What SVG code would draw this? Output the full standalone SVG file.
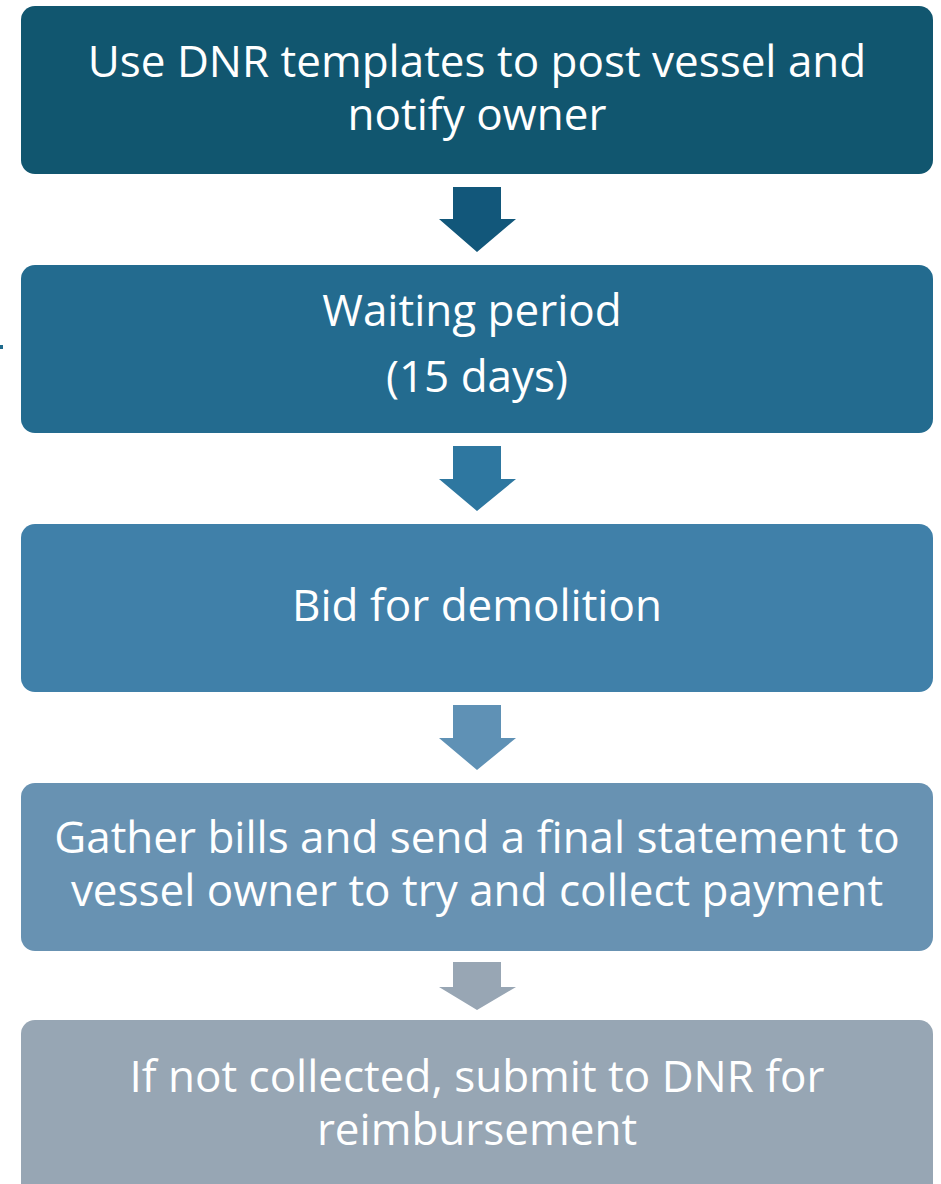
<svg xmlns="http://www.w3.org/2000/svg" width="941" height="1184" viewBox="0 0 941 1184">
<style>
.box{stroke:none}
.t{font-family:"Open Sans","Liberation Sans",sans-serif;font-size:44px;fill:#ffffff;text-anchor:middle}
</style>
<rect x="0" y="0" width="941" height="1184" fill="#ffffff"/>
<rect x="0" y="345" width="3" height="4" fill="#1e6a8c"/>
<g id="node1"><rect class="box" x="21" y="6" width="912" height="168" rx="14" fill="#11566f"/>
<text class="t" x="477" y="77">Use DNR templates to post vessel and</text>
<text class="t" x="477" y="130">notify owner</text></g>
<g id="node2"><rect class="box" x="21" y="265" width="912" height="168" rx="14" fill="#236b8f"/>
<text class="t" x="472" y="326">Waiting period</text>
<text class="t" x="477" y="392">(15 days)</text></g>
<g id="node3"><rect class="box" x="21" y="524" width="912" height="168" rx="14" fill="#4080a9"/>
<text class="t" x="477" y="621">Bid for demolition</text></g>
<g id="node4"><rect class="box" x="21" y="783" width="912" height="168" rx="14" fill="#6892b2"/>
<text class="t" x="477" y="853">Gather bills and send a final statement to</text>
<text class="t" x="477" y="906">vessel owner to try and collect payment</text></g>
<g id="node5"><rect class="box" x="21" y="1020" width="912" height="190" rx="14" fill="#97a6b4"/>
<text class="t" x="477" y="1092">If not collected, submit to DNR for</text>
<text class="t" x="477" y="1145">reimbursement</text></g>
<g id="connectors">
<polygon points="453,187 501,187 501,219 516,219 477,252 439,219 453,219" fill="#12577a"/>
<polygon points="453,446 501,446 501,479 516,479 477,511 439,479 453,479" fill="#2e77a0"/>
<polygon points="453,705 501,705 501,738 516,738 477,770 439,738 453,738" fill="#5f91b5"/>
<polygon points="453,962 501,962 501,987 516,987 477,1010 439,987 453,987" fill="#98a6b4"/>
</g>
</svg>
